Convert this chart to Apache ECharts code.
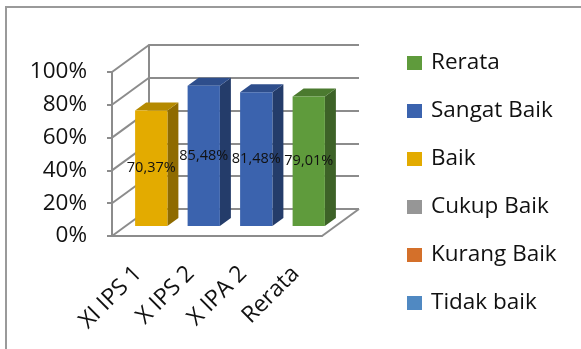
<!DOCTYPE html>
<html>
<head>
    <meta charset="UTF-8">
    <title>Rerata</title>
    <script src="https://cdn.jsdelivr.net/npm/echarts@6/dist/echarts.min.js"></script>
    <style>
        html, body { margin: 0; padding: 0; background: #fff; }
        #main { width: 581px; height: 349px; }
    </style>
</head>
<body>
<div id="main"></div>
<script>
    // data
    var categories = ['XI IPS 1', 'X IPS 2', 'X IPA 2', 'Rerata'];
    var rerata = [null, null, null, 79.01];
    var sangatBaik = [null, 85.48, 81.48, null];
    var baik = [70.37, null, null, null];
    var cukupBaik = [null, null, null, null];
    var kurangBaik = [null, null, null, null];
    var tidakBaik = [null, null, null, null];
    var yTicks = [0, 20, 40, 60, 80, 100];

    var FONT = '"Open Sans", "Noto Sans", sans-serif';
    var GRAY = '#8c8c8c';
    var DX = 37, DY = -27;   // depth of the walls
    var BX = 13, BY = -10;   // front face of bars, inside the box
    var SX = 11, SY = -8;    // thickness of bars

    function fmt(v) {
        return v.toFixed(2).replace('.', ',') + '%';
    }

    function toData(arr) {
        var out = [];
        arr.forEach(function (v, i) {
            if (v != null) out.push([i, v]);
        });
        return out;
    }

    function barRender(col) {
        return function (params, api) {
            var i = api.value(0), v = api.value(1);
            var top = api.coord([i, v]);
            var base = api.coord([i, 0]);
            var w = api.size([1, 0])[0] * 0.615;
            var x1 = base[0] + BX - w / 2, x2 = x1 + w;
            var yb = base[1] + BY, yt = top[1] + BY;
            return {
                type: 'group',
                children: [
                    {type: 'polygon', shape: {points: [[x2, yb], [x2 + SX, yb + SY], [x2 + SX, yt + SY], [x2, yt]]}, style: {fill: col.side}},
                    {type: 'polygon', shape: {points: [[x1, yt], [x1 + SX, yt + SY], [x2 + SX, yt + SY], [x2, yt]]}, style: {fill: col.top}},
                    {type: 'rect', shape: {x: x1, y: yt, width: w, height: yb - yt}, style: {fill: col.front}},
                    {type: 'text', z2: 10, style: {
                        x: (x1 + x2) / 2, y: (yt + yb) / 2, text: fmt(v),
                        textAlign: 'center', textVerticalAlign: 'middle',
                        font: '14.5px ' + FONT, fill: '#111'
                    }}
                ]
            };
        };
    }

    var colors = {
        rerata: {front: '#5f9b3c', top: '#4b7a2f', side: '#3d6227'},
        sangat: {front: '#3b63ae', top: '#2e4e8c', side: '#243c6a'},
        baik: {front: '#e3ab00', top: '#b58a00', side: '#8f6b00'},
        cukup: {front: '#969696', top: '#777', side: '#5a5a5a'},
        kurang: {front: '#d4702a', top: '#a85a22', side: '#83461a'},
        tidak: {front: '#5089c2', top: '#406d9b', side: '#305274'}
    };

    function barSeries(name, arr, col) {
        return {
            name: name,
            type: 'custom',
            xAxisIndex: 0,
            yAxisIndex: 0,
            itemStyle: {color: col.front},
            renderItem: barRender(col),
            data: toData(arr),
            z: 5
        };
    }

    var myChart = echarts.init(document.getElementById('main'));

    var option = {
        animation: false,
        graphic: [{
            type: 'rect', silent: true,
            shape: {x: 6, y: 7, width: 640, height: 420},
            style: {fill: 'none', stroke: '#9a9a9a', lineWidth: 2}
        }],
        legend: {
            orient: 'vertical',
            left: 407,
            top: 51,
            padding: 0,
            itemWidth: 15,
            itemHeight: 14,
            itemGap: 24,
            icon: 'rect',
            data: ['Rerata', 'Sangat Baik', 'Baik', 'Cukup Baik', 'Kurang Baik', 'Tidak baik'],
            textStyle: {fontSize: 22.5, fontFamily: FONT, color: '#111', lineHeight: 24, padding: [0, 0, 0, 4]}
        },
        grid: [
            {left: 112, top: 72, width: 210, height: 164},
            {left: 112 + DX, top: 72 + DY, width: 210, height: 164}
        ],
        xAxis: [{
            gridIndex: 0,
            type: 'category',
            data: categories,
            axisLine: {lineStyle: {color: GRAY, width: 2}},
            axisTick: {length: 7, lineStyle: {color: GRAY, width: 2}},
            axisLabel: {rotate: 45, margin: 34, fontSize: 23, fontFamily: FONT, color: '#111'}
        }, {
            gridIndex: 1,
            type: 'category',
            data: categories,
            show: false
        }],
        yAxis: [{
            gridIndex: 0,
            type: 'value',
            min: 0, max: 100, interval: 20,
            axisLine: {show: true, lineStyle: {color: GRAY, width: 2}},
            axisTick: {show: true, length: 5, lineStyle: {color: GRAY, width: 2}},
            axisLabel: {formatter: '{value}%', margin: 25, fontSize: 22.5, fontFamily: FONT, color: '#111'},
            splitLine: {show: false}
        }, {
            gridIndex: 1,
            type: 'value',
            min: 0, max: 100, interval: 20,
            axisLine: {show: true, lineStyle: {color: GRAY, width: 2}},
            axisTick: {show: false},
            axisLabel: {show: false},
            splitLine: {show: true, lineStyle: {color: GRAY, width: 2}}
        }],
        series: [
            {
                // side wall and floor edges
                type: 'custom',
                silent: true,
                xAxisIndex: 0,
                yAxisIndex: 0,
                z: 1,
                data: yTicks.map(function (v) { return [0, v]; }),
                renderItem: function (params, api) {
                    var y = api.coord([0, api.value(1)])[1];
                    var cs = params.coordSys;
                    var ls = {stroke: GRAY, lineWidth: 2};
                    var kids = [{type: 'line', shape: {x1: cs.x, y1: y, x2: cs.x + DX, y2: y + DY}, style: ls}];
                    if (api.value(1) === 0) {
                        kids.push({type: 'line', shape: {x1: cs.x + cs.width, y1: y, x2: cs.x + cs.width + DX, y2: y + DY}, style: ls});
                    }
                    return {type: 'group', children: kids};
                }
            },
            barSeries('Rerata', rerata, colors.rerata),
            barSeries('Sangat Baik', sangatBaik, colors.sangat),
            barSeries('Baik', baik, colors.baik),
            barSeries('Cukup Baik', cukupBaik, colors.cukup),
            barSeries('Kurang Baik', kurangBaik, colors.kurang),
            barSeries('Tidak baik', tidakBaik, colors.tidak)
        ]
    };
    myChart.setOption(option);
</script>
</body>
</html>
